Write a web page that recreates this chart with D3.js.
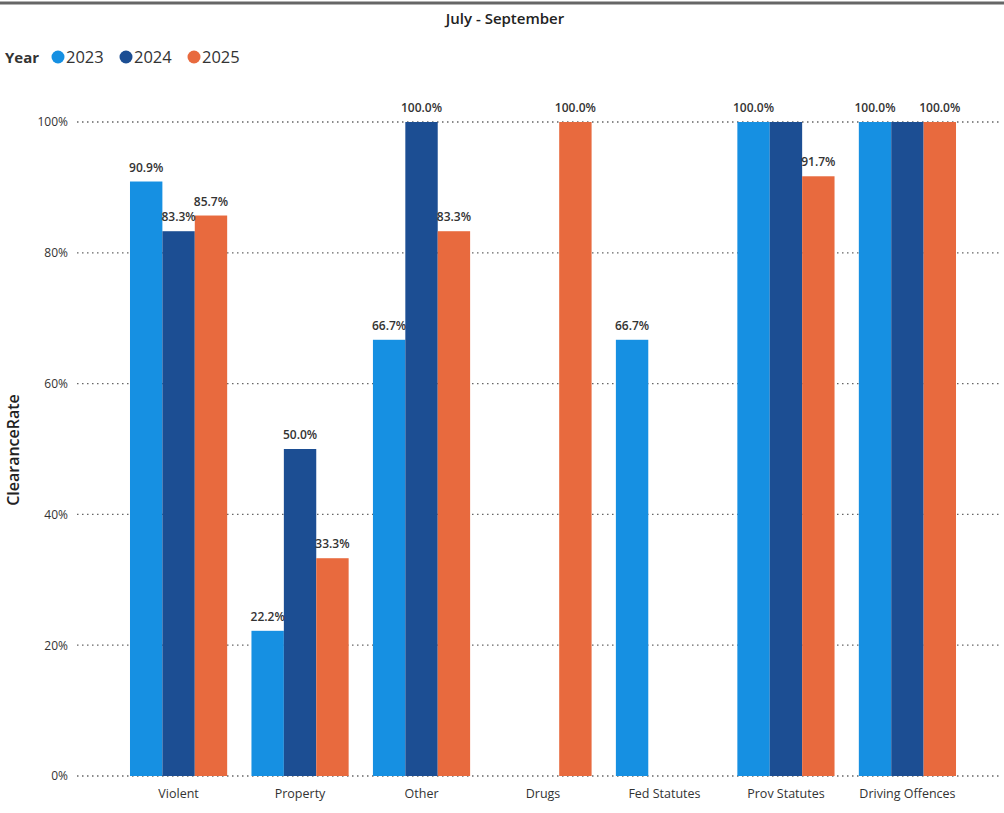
<!DOCTYPE html>
<html>
<head>
<meta charset="utf-8">
<script src="https://cdn.jsdelivr.net/npm/d3@7"></script>
<style>
  html, body { margin: 0; padding: 0; background: #fff; }
  svg { display: block; font-family: "Open Sans", "Noto Sans", sans-serif; }
</style>
</head>
<body>
<svg id="chart" width="1004" height="813"></svg>
<script>
// Clearance rate by offence category, July - September
const categories = ["Violent", "Property", "Other", "Drugs", "Fed Statutes", "Prov Statutes", "Driving Offences"];
const years = ["2023", "2024", "2025"];
const rate2023 = [0.909, 0.222, 0.667, null, 0.667, 1.0, 1.0];
const rate2024 = [0.833, 0.500, 1.0, null, null, 1.0, 1.0];
const rate2025 = [0.857, 0.333, 0.833, 1.0, null, 0.917, 1.0];
const yTicks = [0, 0.2, 0.4, 0.6, 0.8, 1.0];
const yearColors = ["#1690E2", "#1C4E93", "#E86A3E"];

const series = [rate2023, rate2024, rate2025];
const svg = d3.select("#chart");

// frame line along the top
svg.append("line")
  .attr("x1", 0).attr("x2", 1004).attr("y1", 3).attr("y2", 3)
  .attr("stroke", "#666").attr("stroke-width", 3);

// title
svg.append("text")
  .attr("x", 505).attr("y", 24)
  .attr("text-anchor", "middle")
  .attr("font-size", 15).attr("font-weight", 600).attr("fill", "#222")
  .text("July - September");

// legend
const legend = svg.append("g").attr("transform", "translate(5,63)");
legend.append("text").attr("x", 0).attr("y", 0)
  .attr("font-size", 15).attr("font-weight", 700).attr("fill", "#333").text("Year");
const legendX = [58, 126, 194];
years.forEach((yr, i) => {
  legend.append("circle").attr("cx", legendX[i] - 5).attr("cy", -6).attr("r", 6.5).attr("fill", yearColors[i]);
  legend.append("text").attr("x", legendX[i] + 3).attr("y", 0)
    .attr("font-size", 16.5).attr("fill", "#333").text(yr);
});

// scales
const x = d3.scaleBand().domain(categories).range([81.4, 1004.6]).paddingInner(0.2).paddingOuter(0.4);
const xSub = d3.scaleBand().domain(years).range([0, x.bandwidth()]).padding(0);
const y = d3.scaleLinear().domain([0, 1]).range([776, 122]);

// y gridlines (dotted)
svg.append("g").selectAll("line").data(yTicks).join("line")
  .attr("x1", 77).attr("x2", 1000)
  .attr("y1", d => y(d)).attr("y2", d => y(d))
  .attr("stroke", "#666").attr("stroke-width", 1.3).attr("stroke-dasharray", "1.5,3.5");

// y axis labels
const yAxis = svg.append("g").attr("transform", "translate(68,0)")
  .call(d3.axisLeft(y).tickValues(yTicks).tickFormat(d3.format(".0%")).tickSize(0).tickPadding(0));
yAxis.select(".domain").remove();
yAxis.selectAll("text").attr("font-size", 12).attr("fill", "#333")
  .attr("font-family", "\"Open Sans\", sans-serif");

// y axis title
svg.append("text")
  .attr("transform", "translate(19,450) rotate(-90)")
  .attr("text-anchor", "middle")
  .attr("font-size", 16).attr("font-weight", 600).attr("fill", "#222")
  .text("ClearanceRate");

// x axis labels
const xAxis = svg.append("g").attr("transform", "translate(0,781)")
  .call(d3.axisBottom(x).tickSize(0).tickPadding(8));
xAxis.select(".domain").remove();
xAxis.selectAll("text").attr("font-size", 12.5).attr("fill", "#333")
  .attr("font-family", "\"Open Sans\", sans-serif");

// bars
const bars = [];
categories.forEach((cat, ci) => {
  years.forEach((yr, si) => {
    const v = series[si][ci];
    if (v == null) return;
    bars.push({ cat, yr, si, v });
  });
});

svg.append("g").selectAll("rect").data(bars).join("rect")
  .attr("x", d => x(d.cat) + xSub(d.yr))
  .attr("width", xSub.bandwidth())
  .attr("y", d => y(d.v))
  .attr("height", d => y(0) - y(d.v))
  .attr("fill", d => yearColors[d.si]);

// data labels, skipping any whose glyph box would collide with one already placed
const labelG = svg.append("g");
const placed = [];
const fmt = d3.format(".1%");
bars.forEach(d => {
  const cx = x(d.cat) + xSub(d.yr) + xSub.bandwidth() / 2;
  const by = y(d.v) - 10;
  const t = labelG.append("text")
    .attr("x", cx).attr("y", by)
    .attr("text-anchor", "middle")
    .attr("font-size", 12).attr("font-weight", 600).attr("fill", "#333")
    .text(fmt(d.v));
  const bb = t.node().getBBox();
  const b = { x: bb.x, y: by - 9, width: bb.width, height: 9 };
  const hit = placed.some(p => b.x < p.x + p.width && b.x + b.width > p.x && b.y < p.y + p.height && b.y + b.height > p.y);
  if (hit) t.remove(); else placed.push(b);
});
</script>
</body>
</html>
